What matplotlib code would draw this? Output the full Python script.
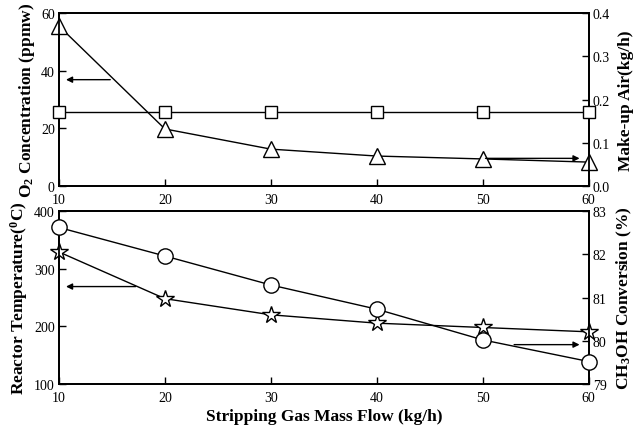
import matplotlib.pyplot as plt

plt.rcParams['font.family'] = 'Liberation Serif'
plt.rcParams['mathtext.fontset'] = 'custom'
plt.rcParams['mathtext.rm'] = 'Liberation Serif:bold'
plt.rcParams['mathtext.it'] = 'Liberation Serif:bold'
plt.rcParams['mathtext.bf'] = 'Liberation Serif:bold'

flow = [10, 20, 30, 40, 50, 60]
o2_conc = [55.5, 19.8, 12.8, 10.4, 9.4, 8.3]
makeup_air = [0.171, 0.171, 0.171, 0.171, 0.171, 0.171]
temp = [329, 248, 220, 205.5, 198, 190.5]
conversion = [82.62, 81.96, 81.29, 80.73, 80.02, 79.52]

fig = plt.figure(figsize=(6.39, 4.27), dpi=100)
ax1 = fig.add_axes([0.0923, 0.562, 0.829, 0.405])
ax3 = fig.add_axes([0.0923, 0.0984, 0.829, 0.405])
ax2 = ax1.twinx()
ax4 = ax3.twinx()

mk = dict(color='black', lw=1, markerfacecolor='white', markeredgecolor='black',
          markeredgewidth=1, clip_on=False, zorder=5)
ax1.plot(flow, o2_conc, marker='^', ms=11, **mk)
ax2.plot(flow, makeup_air, marker='s', ms=9, **mk)
ax3.plot(flow, temp, marker='*', ms=13, **mk)
ax4.plot(flow, conversion, marker='o', ms=11, **mk)

arr = dict(arrowstyle='-|>', color='black', lw=1, mutation_scale=9)
ax1.annotate('', xy=(10.4, 36.9), xytext=(15.1, 36.9), arrowprops=arr)
ax2.annotate('', xy=(59.4, 0.064), xytext=(50, 0.064), arrowprops=arr)
ax3.annotate('', xy=(10.4, 269), xytext=(17.5, 269), arrowprops=arr)
ax4.annotate('', xy=(59.4, 79.91), xytext=(52.7, 79.91), arrowprops=arr)

ax1.set_xlim(10, 60)
ax1.set_ylim(0, 60)
ax1.set_yticks([0, 20, 40, 60])
ax2.set_ylim(0, 0.4)
ax2.set_yticks([0.0, 0.1, 0.2, 0.3, 0.4])
ax2.set_yticklabels(['0.0', '0.1', '0.2', '0.3', '0.4'])
ax3.set_xlim(10, 60)
ax3.set_ylim(100, 400)
ax3.set_yticks([100, 200, 300, 400])
ax4.set_ylim(79, 83)
ax4.set_yticks([79, 80, 81, 82, 83])

for a in [ax1, ax2, ax3, ax4]:
    a.tick_params(direction='in', length=5, width=1, labelsize=10, pad=3)
    a.tick_params(axis='x', pad=5)
    a.set_xticks(flow)
    for s in a.spines.values():
        s.set_linewidth(1.3)

ax1.set_ylabel(r'O$_2$ Concentration (ppmw)', fontsize=12.5, fontweight='bold', labelpad=3)
ax2.set_ylabel('Make-up Air(kg/h)', fontsize=12.5, fontweight='bold', labelpad=6)
ax3.set_ylabel(r'Reactor Temperature($^0$C)', fontsize=12.5, fontweight='bold', labelpad=3)
ax4.set_ylabel(r'CH$_3$OH Conversion (%)', fontsize=12.5, fontweight='bold', labelpad=6)
ax3.set_xlabel('Stripping Gas Mass Flow (kg/h)', fontsize=12.5, fontweight='bold', labelpad=3)

fig.savefig('out.png', dpi=100)
